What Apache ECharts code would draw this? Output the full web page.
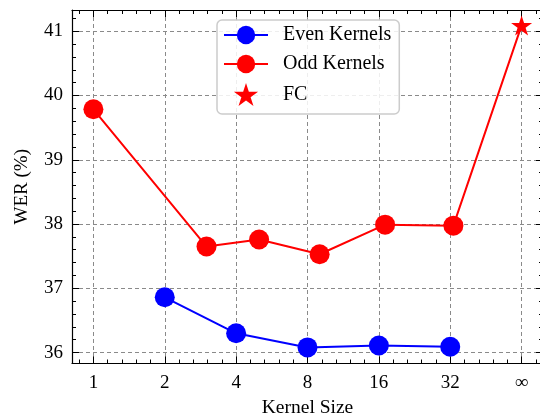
<!DOCTYPE html>
<html><head><meta charset="utf-8">
<script src="https://cdn.jsdelivr.net/npm/echarts@6/dist/echarts.min.js"></script>
<style>html,body{margin:0;padding:0;background:#fff}#c{width:540px;height:419px}</style>
</head><body><div id="c"></div>
<script>
// ---- data ----
const evenSizes = [2, 4, 8, 16, 32];
const evenWER = [36.86, 36.30, 36.08, 36.11, 36.09];
const oddSizes = [1, 3, 5, 9, 17, 33];
const oddWER = [39.785, 37.65, 37.76, 37.53, 37.99, 37.975];
const fcSize = [64];          // drawn at the "∞" tick
const fcWER = [41.09];
const xTickLabels = ['1', '2', '4', '8', '16', '32', '∞'];   // ticks at 2^0 … 2^6
const seriesNames = ['Even Kernels', 'Odd Kernels', 'FC'];

const FONT = '"Liberation Serif", "DejaVu Serif", serif';
const STAR = 'path://M50 0 L61.23 34.55 L97.55 34.55 L68.17 55.9 L79.39 90.45 L50 69.1 L20.61 90.45 L31.83 55.9 L2.45 34.55 L38.77 34.55 Z';

// x range in log2 units (the same range is used by the log data axis)
const xExpMin = -0.3, xExpMax = 6.3;
const yMin = 35.83, yMax = 41.33;

const axisLine = { show: true, onZero: false, lineStyle: { color: '#000', width: 1.2 } };
const tick = { show: true, inside: true, length: 7, lineStyle: { color: '#000', width: 1 } };
const minor = { show: true, splitNumber: 5, length: 4, lineStyle: { color: '#000', width: 1 } };
const grid = { show: true, lineStyle: { color: '#8a8a8a', width: 1, type: [4, 3] } };

function xLabel(v) {
  const r = Math.round(v);
  return Math.abs(v - r) < 1e-6 && r >= 0 && r < xTickLabels.length ? xTickLabels[r] : '';
}

const chart = echarts.init(document.getElementById('c'), null, { renderer: 'canvas' });
chart.setOption({
  animation: false,
  backgroundColor: '#fff',
  textStyle: { fontFamily: FONT },
  grid: { left: 72, top: 10, width: 471, height: 353.5, containLabel: false, outerBoundsMode: 'none' },
  legend: {
    orient: 'vertical', left: 217, top: 20,
    data: seriesNames,
    padding: [5, 8, 8, 6],
    itemWidth: 44, itemHeight: 23, itemGap: 9,
    backgroundColor: 'rgba(255,255,255,0.85)',
    borderColor: '#cccccc', borderWidth: 1.5, borderRadius: 5,
    textStyle: { fontFamily: FONT, fontSize: 20, color: '#000', padding: [0, 0, 0, 10] }
  },
  xAxis: [
    { // bottom frame, ticks, labels, grid (log2 units)
      type: 'value', min: xExpMin, max: xExpMax, splitNumber: 7, position: 'bottom',
      axisLine, axisTick: tick, minorTick: minor, splitLine: grid,
      axisLabel: { formatter: xLabel, margin: 10, fontSize: 19, fontFamily: FONT, color: '#000' },
      name: 'Kernel Size', nameLocation: 'middle', nameGap: 32,
      nameTextStyle: { fontSize: 19.5, fontFamily: FONT, color: '#000' }
    },
    { // top frame
      type: 'value', min: xExpMin, max: xExpMax, splitNumber: 7, position: 'top',
      axisLine, axisTick: tick, minorTick: minor, splitLine: { show: false },
      axisLabel: { show: false }
    },
    { // data axis: kernel size on a base-2 log scale
      type: 'log', logBase: 2, min: Math.pow(2, xExpMin), max: Math.pow(2, xExpMax),
      position: 'bottom', show: false
    }
  ],
  yAxis: [
    {
      type: 'value', min: yMin, max: yMax, splitNumber: 5, position: 'left',
      axisLine, axisTick: tick, minorTick: minor, splitLine: grid,
      axisLabel: { margin: 9, fontSize: 19, fontFamily: FONT, color: '#000', showMinLabel: false, showMaxLabel: false },
      name: 'WER (%)', nameLocation: 'middle', nameGap: 40,
      nameTextStyle: { fontSize: 19, fontFamily: FONT, color: '#000' }
    },
    {
      type: 'value', min: yMin, max: yMax, splitNumber: 5, position: 'right',
      axisLine, axisTick: tick, minorTick: minor, splitLine: { show: false },
      axisLabel: { show: false }
    }
  ],
  series: [
    {
      name: seriesNames[0], type: 'line', xAxisIndex: 2, yAxisIndex: 0,
      data: evenSizes.map((s, i) => [s, evenWER[i]]),
      symbol: 'circle', symbolSize: 20,
      itemStyle: { color: '#0000ff', opacity: 1 }, lineStyle: { color: '#0000ff', width: 2 }, z: 3
    },
    {
      name: seriesNames[1], type: 'line', xAxisIndex: 2, yAxisIndex: 0,
      data: oddSizes.map((s, i) => [s, oddWER[i]]).concat(
        fcSize.map((s, i) => ({ value: [s, fcWER[i]], symbol: 'none' }))),
      symbol: 'circle', symbolSize: 20,
      itemStyle: { color: '#ff0000', opacity: 1 }, lineStyle: { color: '#ff0000', width: 2 }, z: 3
    },
    {
      name: seriesNames[2], type: 'scatter', xAxisIndex: 2, yAxisIndex: 0,
      data: fcSize.map((s, i) => [s, fcWER[i]]),
      symbol: STAR, symbolSize: [21, 20],
      itemStyle: { color: '#ff0000', opacity: 1 }, z: 4
    }
  ]
});
</script>
</body></html>
